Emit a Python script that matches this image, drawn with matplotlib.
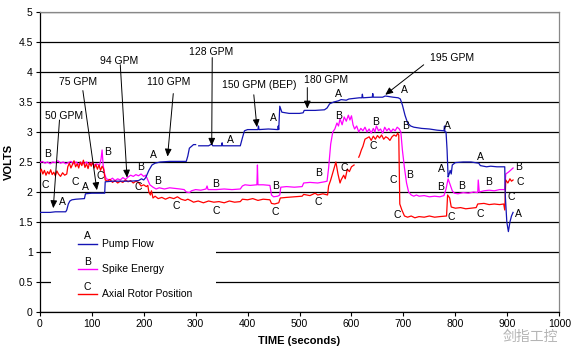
import numpy as np
import matplotlib.pyplot as plt
from matplotlib.patches import Rectangle

nan = np.nan

# Pump Flow (A)
flow_t = [0, 20, 30, 50, 52, 55, 58, 62, 70, 86, 88, 100, 115, 125, 126, 140, 160, 175, 190, 196,
          200, 204, 210, 216, 222, 232, 250, 270, 282, 285, 288, 292, 296, 300, 301, 306, 325, 331,
          333, 350, 351, 352, 370, 386, 390, 394, 400, 420, 421, 422, 440, 458, 459, 460, 462, 466,
          480, 500, 507, 509, 530, 548, 553, 558, 566, 575, 580, 590, 595, 605, 615, 620, 621, 622,
          640, 641, 642, 660, 665, 680, 690, 694, 698, 703, 708, 714, 720, 735, 750, 765, 778, 779,
          780, 782, 784, 786, 788, 790, 792, 794, 800, 815, 830, 845, 848, 860, 868, 880, 895, 896,
          899, 902, 905, 908, 911]
flow_v = [1.66, 1.66, 1.67, 1.67, 1.70, 1.80, 1.85, 1.87, 1.88, 1.89, 1.97, 1.98, 1.98, 1.98, 2.17,
          2.18, 2.18, 2.18, 2.19, 2.22, 2.20, 2.24, 2.36, 2.45, 2.48, 2.50, 2.51, 2.51, 2.51, 2.60,
          2.73, 2.76, 2.79, 2.79, nan, 2.77, 2.77, 2.80, 2.77, 2.77, 2.82, 2.77, 2.77, 2.77, 2.90,
          3.02, 3.04, 3.04, 3.10, 3.04, 3.05, 3.04, 3.10, 3.04, 3.43, 3.33, 3.31, 3.31, 3.32, 3.36,
          3.36, 3.37, 3.40, 3.47, 3.50, 3.52, 3.54, 3.53, 3.55, 3.56, 3.57, 3.57, 3.63, 3.57, 3.58,
          3.64, 3.58, 3.58, 3.60, 3.58, 3.57, 3.55, 3.45, 3.28, 3.15, 3.10, 3.08, 3.06, 3.05, 3.03,
          3.02, 3.10, 3.00, 3.00, 2.70, 2.25, 2.30, 2.36, 2.30, 2.45, 2.49, 2.50, 2.50, 2.48, 2.44,
          2.42, 2.43, 2.42, 2.42, 1.95, 1.50, 1.34, 1.50, 1.60, 1.66]

# Spike Energy (B)
spike_t = [0, 5, 10, 15, 20, 25, 30, 35, 40, 45, 50, 55, 60, 65, 70, 75, 80, 85, 90, 95, 100, 105,
           110, 115, 118, 120, 122, 125, 128, 135, 140, 145, 150, 155, 160, 165, 170, 175, 180, 185,
           190, 195, 200, 204, 208, 212, 218, 224, 230, 240, 250, 260, 270, 278, 282, 288, 292, 300,
           310, 320, 322, 324, 340, 355, 370, 386, 390, 395, 405, 418, 419, 420, 430, 443, 446, 450,
           458, 462, 464, 475, 490, 505, 508, 520, 535, 548, 553, 556, 560, 564, 568, 572, 575, 578,
           582, 586, 590, 594, 597, 600, 603, 606, 610, 614, 618, 622, 626, 630, 634, 638, 642, 645,
           648, 652, 656, 660, 664, 668, 672, 676, 680, 684, 688, 692, 695, 698, 702, 706, 710, 715,
           720, 725, 730, 740, 750, 760, 770, 778, 782, 786, 790, 794, 798, 805, 815, 825, 835, 843,
           844, 846, 855, 865, 875, 885, 895, 897, 902, 906, 911]
spike_v = [2.49, 2.51, 2.48, 2.50, 2.47, 2.50, 2.49, 2.52, 2.48, 2.50, 2.47, 2.49, 2.51, 2.47, 2.50,
           2.46, 2.49, 2.47, 2.50, 2.46, 2.48, 2.45, 2.47, 2.44, 2.55, 2.70, 2.45, 2.30, 2.22, 2.20,
           2.23, 2.19, 2.22, 2.20, 2.24, 2.21, 2.25, 2.28, 2.26, 2.29, 2.27, 2.30, 2.26, 2.28, 2.20,
           2.12, 2.08, 2.05, 2.07, 2.05, 2.07, 2.06, 2.05, 2.04, 2.00, 1.99, 2.02, 2.04, 2.03, 2.05,
           2.10, 2.04, 2.04, 2.05, 2.04, 2.05, 2.10, 2.12, 2.11, 2.12, 2.45, 2.12, 2.12, 2.11, 1.95,
           1.92, 1.93, 1.95, 2.08, 2.09, 2.08, 2.09, 2.15, 2.16, 2.15, 2.17, 2.18, 2.40, 2.80, 3.00,
           3.05, 3.15, 3.10, 3.22, 3.12, 3.25, 3.18, 3.28, 3.20, 3.27, 3.12, 3.05, 3.10, 3.00, 3.06,
           3.02, 3.08, 3.00, 3.05, 2.98, 3.06, 3.00, 3.10, 3.02, 3.05, 2.98, 3.08, 3.02, 3.06, 3.00,
           3.05, 3.02, 3.08, 3.05, 3.00, 2.70, 2.40, 2.15, 2.00, 1.95, 1.93, 1.95, 1.93, 1.94, 1.92,
           1.93, 1.92, 1.94, 2.05, 2.22, 2.12, 2.02, 1.98, 1.97, 1.99, 1.98, 2.00, 1.99, 2.20, 2.00,
           2.02, 2.03, 2.02, 2.04, 2.04, 2.30, 2.33, 2.36, 2.40]

# Axial Rotor Position (C)
axial_t = [0, 3, 6, 9, 12, 15, 18, 21, 24, 27, 30, 33, 36, 40, 44, 48, 52, 54, 57, 60, 63, 66, 69,
           72, 75, 78, 81, 84, 87, 90, 93, 96, 99, 102, 105, 108, 111, 114, 117, 120, 123, 126, 130,
           135, 140, 145, 150, 155, 160, 165, 170, 175, 180, 185, 190, 195, 200, 205, 208, 210, 213,
           215, 218, 222, 228, 235, 242, 250, 258, 265, 272, 280, 285, 292, 296, 305, 315, 325, 335,
           345, 355, 365, 375, 386, 390, 400, 410, 420, 430, 443, 446, 452, 460, 463, 475, 490, 505,
           508, 520, 530, 535, 545, 554, 556, 560, 565, 570, 574, 578, 580, 585, 588, 592, 596, 600,
           605, 606, 614, 616, 619, 622, 626, 630, 634, 638, 642, 646, 650, 654, 658, 662, 666, 670,
           674, 678, 682, 686, 689, 691, 693, 697, 702, 708, 715, 722, 730, 740, 750, 760, 770, 783,
           785, 789, 792, 800, 810, 820, 830, 840, 843, 855, 865, 875, 885, 893, 895, 897, 901, 905,
           908, 911]
axial_v = [2.32, 2.38, 2.30, 2.36, 2.28, 2.34, 2.30, 2.37, 2.29, 2.33, 2.27, 2.35, 2.30, 2.26, 2.32,
           2.28, 2.30, 2.42, 2.48, 2.40, 2.46, 2.52, 2.42, 2.47, 2.40, 2.50, 2.44, 2.53, 2.41, 2.47,
           2.39, 2.49, 2.43, 2.50, 2.40, 2.46, 2.38, 2.45, 2.36, 2.43, 2.38, 2.20, 2.18, 2.21, 2.16,
           2.19, 2.15, 2.18, 2.16, 2.20, 2.17, 2.19, 2.15, 2.18, 2.16, 2.10, 2.12, 2.09, 2.11, 2.00,
           1.95, 2.02, 1.90, 1.93, 1.89, 1.91, 1.88, 1.91, 1.89, 1.92, 1.88, 1.86, 1.88, 1.85, 1.83,
           1.85, 1.82, 1.85, 1.83, 1.84, 1.82, 1.85, 1.83, 1.84, 1.88, 1.87, 1.89, 1.86, 1.88, 1.87,
           1.81, 1.80, 1.82, 1.90, 1.91, 1.92, 1.93, 1.96, 1.94, 1.98, 1.95, 1.97, 1.95, 2.10, 2.20,
           2.35, 2.50, 2.30, 2.15, 2.20, 2.28, 2.22, 2.38, 2.34, 2.42, 2.45, nan, 2.58, 2.62, 2.70,
           2.76, 2.88, 2.90, 2.92, 2.86, 2.93, 2.88, 2.94, 2.90, 2.95, 2.88, 2.92, 2.90, 2.86, 2.92,
           2.95, 2.93, 2.98, 2.95, 1.80, 1.70, 1.60, 1.58, 1.60, 1.57, 1.59, 1.58, 1.60, 1.58, 1.59,
           1.60, 1.95, 1.90, 1.75, 1.73, 1.74, 1.72, 1.73, 1.74, 1.80, 1.81, 1.79, 1.80, 1.79, 1.80,
           1.70, 2.20, 2.15, 2.22, 2.18, 2.20]

# curve letters placed next to the traces
letter_a = [(44, 1.84), (88, 2.09), (219, 2.62), (367, 2.87), (449, 3.23), (574, 3.64), (702, 3.70),
            (784, 3.10), (773, 2.38), (849, 2.59), (922, 1.64)]
letter_b = [(15, 2.63), (131, 2.67), (194, 2.41), (227, 2.18), (338, 2.13), (454, 2.10), (537, 2.31),
            (576, 3.26), (646, 3.17), (704, 3.10), (711, 2.29), (771, 2.09), (811, 2.10), (863, 2.16),
            (922, 2.42)]
letter_c = [(10, 2.12), (68, 2.17), (116, 2.27), (190, 2.08), (263, 1.76), (340, 1.68), (454, 1.67),
            (537, 1.83), (586, 2.40), (641, 2.76), (680, 2.20), (689, 1.61), (792, 1.59), (847, 1.63),
            (907, 1.91), (924, 2.17)]

# flow rate call-outs: text, text position, arrow start, arrow tip
gpm_text = ["50 GPM", "75 GPM", "94 GPM", "110 GPM", "128 GPM", "150 GPM (BEP)", "180 GPM", "195 GPM"]
gpm_text_xy = [(46, 3.27), (74, 3.84), (153, 4.19), (248, 3.83), (330, 4.34), (422, 3.78), (551, 3.87), (793, 4.24)]
gpm_from = [(38, 3.20), (83, 3.69), (155, 4.12), (257, 3.64), (332, 4.24), (412, 3.62), (515, 3.74), (739, 4.12)]
gpm_to = [(26, 1.73), (110, 2.03), (168, 2.24), (246, 2.59), (331, 2.77), (418, 3.08), (515, 3.39), (665, 3.62)]

blue = "#1414b4"
magenta = "#ff00ff"
red = "#ff0000"

plt.rcParams["font.family"] = ["Liberation Sans", "DejaVu Sans"]

fig = plt.figure(figsize=(5.76, 3.58), dpi=100)
ax = fig.add_axes([0.069, 0.1285, 0.902, 0.838])

ax.set_xlim(0, 1000)
ax.set_ylim(0, 5)
ax.set_xticks(np.arange(0, 1001, 100))
ax.set_yticks(np.arange(0, 5.01, 0.5))
ax.set_yticklabels(["0", "0.5", "1", "1.5", "2", "2.5", "3", "3.5", "4", "4.5", "5"])
ax.tick_params(labelsize=7.5, length=3, width=0.8, direction="out", pad=2)
ax.grid(axis="y", color="black", linewidth=0.9)
ax.set_axisbelow(True)
for s in ["top", "right"]:
    ax.spines[s].set_color("#888888")
    ax.spines[s].set_linewidth(0.9)
for s in ["left", "bottom"]:
    ax.spines[s].set_linewidth(0.9)

ax.plot(spike_t, spike_v, color=magenta, lw=0.9, zorder=3)
ax.plot(axial_t, axial_v, color=red, lw=0.9, zorder=4)
ax.plot(flow_t, flow_v, color=blue, lw=0.9, zorder=5)

for letter, pts in (("A", letter_a), ("B", letter_b), ("C", letter_c)):
    for x, y in pts:
        ax.text(x, y, letter, fontsize=7.5, ha="center", va="center", zorder=6)

for txt, txy, p0, p1 in zip(gpm_text, gpm_text_xy, gpm_from, gpm_to):
    ax.text(txy[0], txy[1], txt, fontsize=7.5, ha="center", va="center", zorder=6)
    ax.annotate("", xy=p1, xytext=p0,
                arrowprops=dict(arrowstyle="-|>,head_length=0.45,head_width=0.2",
                                color="black", lw=0.7, shrinkA=0, shrinkB=0),
                zorder=6)

# legend block with letters above the sample lines
ax.add_patch(Rectangle((0.022, 0.03), 0.318, 0.25, transform=ax.transAxes,
                       facecolor="white", edgecolor="none", zorder=2))
leg_names = ["Pump Flow", "Spike Energy", "Axial Rotor Position"]
leg_colors = [blue, magenta, red]
leg_letters = ["A", "B", "C"]
leg_y = [0.227, 0.142, 0.06]
for name, col, let, y in zip(leg_names, leg_colors, leg_letters, leg_y):
    ax.plot([0.074, 0.11], [y, y], color=col, lw=1.0, transform=ax.transAxes, zorder=3)
    ax.text(0.092, y + 0.008, let, fontsize=7.5, ha="center", va="bottom", transform=ax.transAxes)
    ax.text(0.12, y, name, fontsize=7.5, ha="left", va="center", transform=ax.transAxes)

ax.set_xlabel("TIME (seconds)", fontsize=8, fontweight="bold", labelpad=5)
ax.set_ylabel("VOLTS", fontsize=8, fontweight="bold", labelpad=3)

fig.text(0.92, 0.06, "剑指工控", fontsize=10, color="#b4b4b4",
         family=["Noto Sans CJK SC", "DejaVu Sans"], ha="center", va="center")

fig.savefig("out.png", dpi=100)
